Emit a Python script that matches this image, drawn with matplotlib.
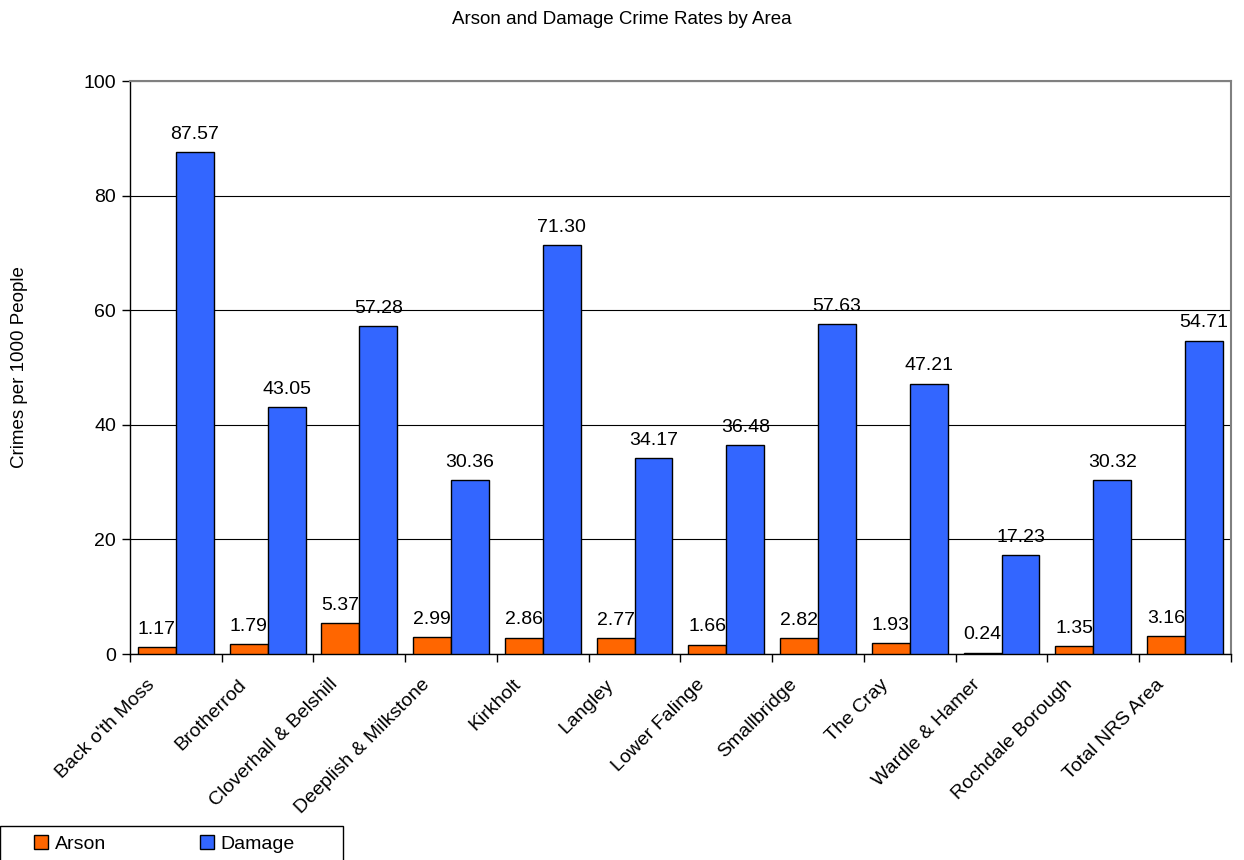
import numpy as np
import matplotlib.pyplot as plt
import matplotlib.transforms as mtransforms
from matplotlib.patches import Rectangle
from matplotlib.ticker import FixedLocator

plt.rcParams['font.family'] = ['Liberation Sans', 'DejaVu Sans']

# data
areas = ["Back o'th Moss", "Brotherrod", "Cloverhall & Belshill", "Deeplish & Milkstone",
         "Kirkholt", "Langley", "Lower Falinge", "Smallbridge", "The Cray",
         "Wardle & Hamer", "Rochdale Borough", "Total NRS Area"]
arson = [1.17, 1.79, 5.37, 2.99, 2.86, 2.77, 1.66, 2.82, 1.93, 0.24, 1.35, 3.16]
damage = [87.57, 43.05, 57.28, 30.36, 71.30, 34.17, 36.48, 57.63, 47.21, 17.23, 30.32, 54.71]

fig = plt.figure(figsize=(12.44, 8.60), dpi=100)
ax = fig.add_axes([0.1045, 0.2395, 0.885, 0.6663])

x = np.arange(len(areas))
w = 0.413
b1 = ax.bar(x - w/2, arson, w, color='#FF6600', edgecolor='black', linewidth=1, label='Arson', zorder=3)
b2 = ax.bar(x + w/2, damage, w, color='#3366FF', edgecolor='black', linewidth=1, label='Damage', zorder=3)

# value labels above the bars
for bars, vals in [(b1, arson), (b2, damage)]:
    for r, v in zip(bars, vals):
        ax.annotate('%.2f' % v, (r.get_x() + r.get_width()/2, r.get_height()),
                    xytext=(0, 9.5), textcoords='offset points', ha='center', va='baseline',
                    fontsize=14, zorder=4)

ax.set_xlim(-0.5, len(areas) - 0.5)
ax.set_ylim(0, 100)
ax.set_yticks(range(0, 101, 20))
ax.yaxis.grid(True, color='black', linewidth=0.8, zorder=0)
ax.tick_params(axis='y', labelsize=14, length=6, direction='out', width=1, pad=4)

ax.set_xticks(x)
ax.set_xticklabels(areas, rotation=45, ha='right', va='top', rotation_mode='anchor', fontsize=14)
ax.tick_params(axis='x', which='major', length=0, pad=10)
ax.xaxis.set_minor_locator(FixedLocator(np.arange(-0.5, len(areas), 1)))
ax.tick_params(axis='x', which='minor', length=6, width=1)
shift = mtransforms.ScaledTranslation(-0.30, -0.08, fig.dpi_scale_trans)
for lbl in ax.get_xticklabels():
    lbl.set_transform(lbl.get_transform() + shift)

for s in ['top', 'right']:
    ax.spines[s].set_color('#808080')
    ax.spines[s].set_linewidth(1.5)
for s in ['left', 'bottom']:
    ax.spines[s].set_color('black')
    ax.spines[s].set_linewidth(1)

ax.set_ylabel('Crimes per 1000 People', fontsize=13.5, labelpad=40)
fig.suptitle('Arson and Damage Crime Rates by Area', fontsize=13.5, y=0.987)

# legend box at the bottom left
fig.patches.append(Rectangle((0, -0.01), 343/1244, 1 - 826/860 + 0.01, transform=fig.transFigure,
                             facecolor='white', edgecolor='black', linewidth=1))
leg = fig.legend(handles=[b1, b2], loc='center left', bbox_to_anchor=(34/1244, 1 - 844/860), ncol=2,
                 fontsize=14, frameon=False, handlelength=0.72, handleheight=0.72,
                 columnspacing=4.8, borderpad=0, borderaxespad=0, handletextpad=0.36)

plt.savefig('out.png', dpi=100)
